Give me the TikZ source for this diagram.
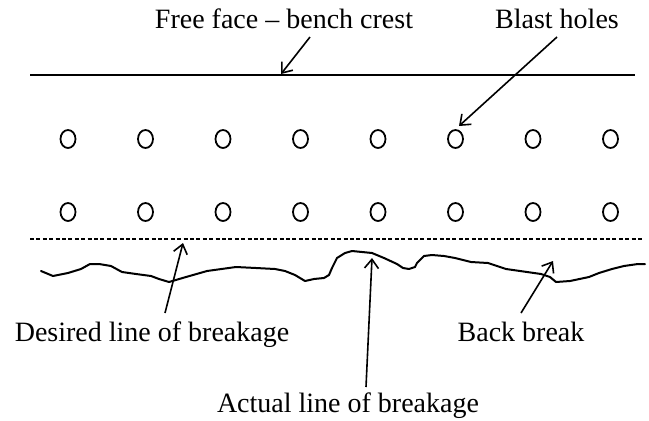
\documentclass[tikz,border=0pt]{standalone}
\usepackage{fontspec}
\setmainfont{Liberation Serif}
\usetikzlibrary{arrows.meta,shapes.geometric}
\begin{document}
\begin{tikzpicture}[x=1pt,y=-1pt,
  lbl/.style={font=\fontsize{28}{32}\selectfont, inner sep=0pt, anchor=base},
  hole/.style={draw, ellipse, line width=1.8pt, minimum width=15pt, minimum height=18pt, inner sep=0pt},
  ptr/.style={line width=1.6pt, -{Straight Barb[length=9pt,width=14pt,line width=1.6pt]}},
  crest/.style={line width=2pt},
  desired/.style={line width=1.5pt, dash pattern=on 4pt off 2.4pt},
  actual/.style={line width=2pt, line join=round, line cap=round}]
\useasboundingbox (0,0) rectangle (649,421);

% labels
\node[lbl] (ff)  at (284,28)  {Free face -- bench crest};
\node[lbl] (bh)  at (557,28)  {Blast holes};
\node[lbl] (dl)  at (152,341) {Desired line of breakage};
\node[lbl] (bb)  at (521,341) {Back break};
\node[lbl] (al)  at (348,412) {Actual line of breakage};

% bench crest
\coordinate (crestL) at (30,75);
\coordinate (crestR) at (635,75);
\draw[crest] (crestL) -- (crestR);

% two rows of blast holes
\foreach \i in {1,...,8} {
  \node[hole] (a\i) at ({68+77.5*(\i-1)},139) {};
  \node[hole] (b\i) at ({68+77.5*(\i-1)},212) {};
}

% desired line of breakage
\coordinate (desL) at (30,239);
\coordinate (desR) at (642,239);
\draw[desired] (desL) -- (desR);

% actual line of breakage
\draw[actual] (41,271) -- (53,276) -- (68,273) -- (81,269) -- (90,264) -- (99,264)
  -- (111,266) -- (122,272) -- (136,274) -- (151,276) -- (159,279) -- (169,282)
  -- (186,277) -- (207,271) -- (236,267) -- (256,268) -- (275,269) -- (285,271)
  -- (295,275) -- (305,281) -- (314,279) -- (324,278) -- (329,275) -- (332,268)
  -- (337,258) -- (345,253) -- (352,251) -- (372,253) -- (384,258) -- (397,264)
  -- (403,268) -- (409,269) -- (415,267) -- (417,263) -- (424,256) -- (432,255)
  -- (444,256) -- (455,258) -- (471,262) -- (488,263) -- (506,269) -- (527,272)
  -- (541,274) -- (550,277) -- (556,282) -- (570,281) -- (589,277) -- (599,273)
  -- (612,269) -- (624,266) -- (638,264) -- (645,264);

% pointers
\coordinate (ffT) at (310,37);  \coordinate (ffH) at (281,74);
\coordinate (bhT) at (557,37);  \coordinate (bhH) at (459,126);
\coordinate (dlT) at (165,313); \coordinate (dlH) at (183,243);
\coordinate (alT) at (366,387); \coordinate (alH) at (372,258);
\coordinate (bbT) at (521,313); \coordinate (bbH) at (553,261);
\draw[ptr] (ffT) -- (ffH);
\draw[ptr] (bhT) -- (bhH);
\draw[ptr] (dlT) -- (dlH);
\draw[ptr] (alT) -- (alH);
\draw[ptr] (bbT) -- (bbH);
\end{tikzpicture}
\end{document}
